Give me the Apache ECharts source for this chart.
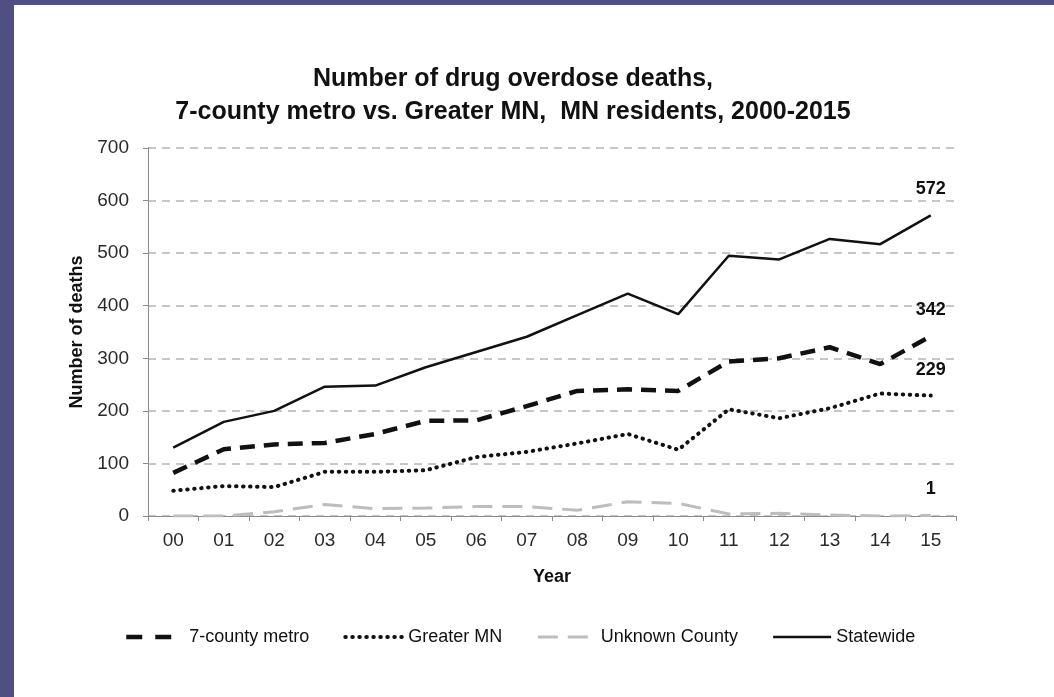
<!DOCTYPE html>
<html>
<head>
<meta charset="utf-8">
<script src="https://cdn.jsdelivr.net/npm/echarts@6/dist/echarts.min.js"></script>
<style>
  html, body { margin: 0; padding: 0; }
  body { width: 1054px; height: 697px; background: #4f4f84; position: relative; overflow: hidden; }
  #chart { position: absolute; left: 14px; top: 5px; width: 1040px; height: 692px; background: #fff; }
</style>
</head>
<body>
<div id="chart"></div>
<script>
// data
const years = ['00', '01', '02', '03', '04', '05', '06', '07', '08', '09', '10', '11', '12', '13', '14', '15'];
const metro = [82, 127, 136, 139, 156, 181, 182, 209, 238, 241, 238, 294, 300, 321, 289, 342];
const greaterMN = [48, 57, 55, 84, 84, 87, 112, 122, 138, 156, 126, 203, 186, 205, 233, 229];
const unknownCounty = [0, 0, 8, 22, 14, 15, 18, 18, 11, 27, 24, 4, 5, 2, 0, 1];
const statewide = [130, 179, 200, 246, 248, 283, 312, 341, 382, 423, 384, 495, 488, 527, 517, 572];
const yTicks = [0, 100, 200, 300, 400, 500, 600, 700];

const font = "'Liberation Sans Narrow', 'Arial Narrow', 'Liberation Sans', sans-serif";

const styles = {
  metro: { color: '#111', width: 4.5, type: [15, 9] },
  greater: { color: '#111', width: 4, type: [0.5, 6.5], cap: 'round' },
  unknown: { color: '#bdbdbd', width: 3, type: [20, 10] },
  state: { color: '#111', width: 2.5, type: 'solid' }
};

const chart = echarts.init(document.getElementById('chart'));

// only the last point gets its value written above it
function endLabel(p) {
  return p.dataIndex === years.length - 1 ? String(p.value) : '';
}

function lineSeries(name, data, lineStyle) {
  return {
    name: name,
    type: 'line',
    data: data,
    symbol: 'circle',
    symbolSize: 0,
    showSymbol: true,
    lineStyle: lineStyle,
    itemStyle: { color: lineStyle.color },
    label: {
      show: true,
      position: 'top',
      distance: 17,
      formatter: endLabel,
      fontFamily: font,
      fontWeight: 'bold',
      fontSize: 18,
      color: '#111'
    },
    emphasis: { disabled: true },
    animation: false
  };
}

const option = {
  backgroundColor: '#fff',
  title: {
    text: 'Number of drug overdose deaths,\n7-county metro vs. Greater MN,  MN residents, 2000-2015',
    left: 494,
    top: 53,
    textAlign: 'center',
    textStyle: {
      fontFamily: font,
      fontWeight: 'bold',
      fontSize: 25,
      lineHeight: 33,
      color: '#111'
    }
  },
  legend: {
    left: 105,
    top: 618,
    itemWidth: 58,
    itemHeight: 14,
    itemGap: 34,
    itemStyle: { opacity: 0, borderWidth: 0 },
    textStyle: { fontFamily: font, fontSize: 18, color: '#111' },
    data: [
      { name: '7-county metro', lineStyle: { color: '#111', width: 4.5, type: [16, 13] } },
      { name: 'Greater MN', lineStyle: styles.greater },
      { name: 'Unknown County', lineStyle: styles.unknown },
      { name: 'Statewide', lineStyle: styles.state }
    ]
  },
  grid: { left: 134, right: 98, top: 143, bottom: 181 },
  xAxis: {
    type: 'category',
    data: years,
    boundaryGap: true,
    name: 'Year',
    nameLocation: 'middle',
    nameGap: 52,
    nameTextStyle: { fontFamily: font, fontWeight: 'bold', fontSize: 18, color: '#111' },
    axisLine: { lineStyle: { color: '#8c8c8c', width: 1 } },
    axisTick: { show: true, length: 5, alignWithLabel: false, lineStyle: { color: '#8c8c8c' } },
    axisLabel: { margin: 15, fontFamily: font, fontSize: 19, color: '#2a2a2a' },
    splitLine: { show: false }
  },
  yAxis: {
    type: 'value',
    min: yTicks[0],
    max: yTicks[yTicks.length - 1],
    interval: 100,
    name: 'Number of deaths',
    nameLocation: 'middle',
    nameGap: 51,
    nameTextStyle: { fontFamily: font, fontWeight: 'bold', fontSize: 18, color: '#111' },
    axisLine: { show: true, lineStyle: { color: '#8c8c8c', width: 1 } },
    axisTick: { show: true, length: 5, lineStyle: { color: '#8c8c8c' } },
    axisLabel: { margin: 19, fontFamily: font, fontSize: 19, color: '#2a2a2a' },
    splitLine: { show: true, lineStyle: { color: '#b4b4b4', width: 1.5, type: [8, 6] } }
  },
  series: [
    lineSeries('7-county metro', metro, styles.metro),
    lineSeries('Greater MN', greaterMN, styles.greater),
    lineSeries('Unknown County', unknownCounty, styles.unknown),
    lineSeries('Statewide', statewide, styles.state)
  ]
};

chart.setOption(option);
</script>
</body>
</html>
